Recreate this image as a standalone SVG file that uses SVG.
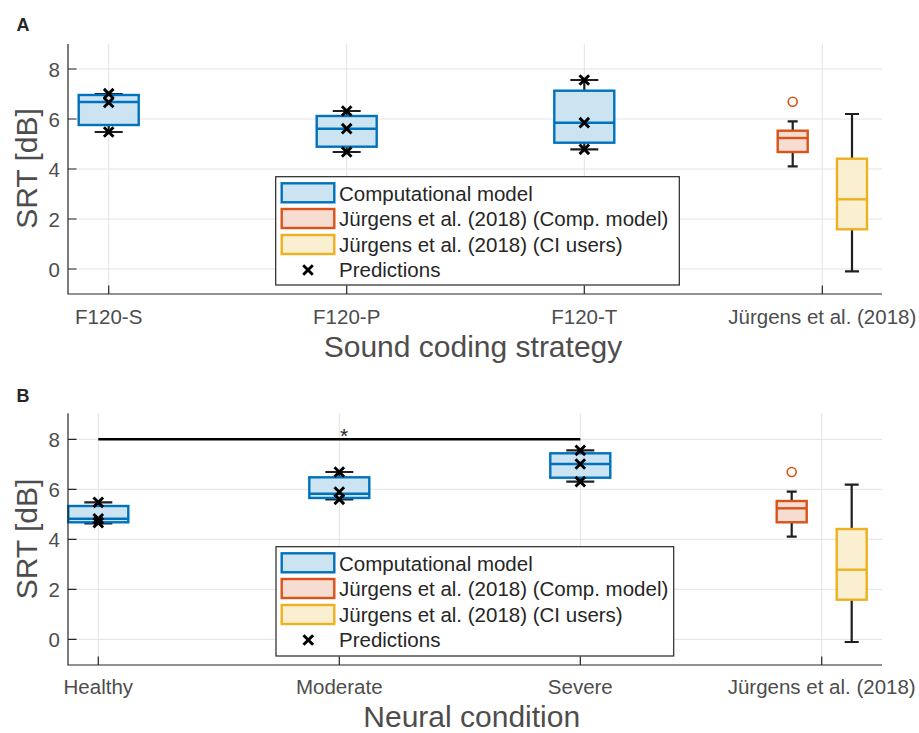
<svg xmlns="http://www.w3.org/2000/svg" width="919" height="733" viewBox="0 0 919 733">
<defs>
<style>
.grid{stroke:#e3e3e3;stroke-width:1;fill:none}
.axis{stroke:#262626;stroke-width:1.2;fill:none}
.tick{fill:#4d4d4d;font-family:"Liberation Sans",Arial,sans-serif;font-size:20.5px}
.ylab{fill:#4d4d4d;font-family:"Liberation Sans",Arial,sans-serif;font-size:20.5px;text-anchor:end}
.big{fill:#4d4d4d;font-family:"Liberation Sans",Arial,sans-serif;font-size:30px;text-anchor:middle}
.panel{fill:#262626;font-family:"Liberation Sans",Arial,sans-serif;font-size:18px;font-weight:bold}
.leg{fill:#262626;font-family:"Liberation Sans",Arial,sans-serif;font-size:20.5px}
.legbox{fill:#ffffff;stroke:#262626;stroke-width:1.2}
.wh{stroke:#1f1f1f;stroke-width:2.2;fill:none}
.bb{fill:#cce3f2;stroke:#0072bd;stroke-width:2.4}
.bm{stroke:#0072bd;stroke-width:2.4}
.ob{fill:#f7ddd1;stroke:#d95319;stroke-width:2.4}
.om{stroke:#d95319;stroke-width:2.4}
.yb{fill:#fbefd2;stroke:#edb120;stroke-width:2.4}
.ym{stroke:#edb120;stroke-width:2.4}
.mk{stroke:#000;stroke-width:2.9;fill:none}
.out{fill:none;stroke:#d95319;stroke-width:1.6}
</style>
<path id="x" d="M-4.8,-4.8L4.8,4.8M-4.8,4.8L4.8,-4.8"/>
</defs>
<rect width="919" height="733" fill="#fff"/>

<!-- Panel A -->
<g id="panelA">
<g id="gridA" class="grid">
<path d="M68,69H882M68,119H882M68,169H882M68,219H882M68,269H882"/>
<path d="M108.7,44V294M346.7,44V294M584.3,44V294M822.3,44V294"/>
</g>
<text class="panel" x="16.5" y="30.5">A</text>

<g id="a_f120s">
<path class="wh" d="M108.7,95V94M94.7,94H122.7M108.7,125V132M94.7,132H122.7"/>
<rect class="bb" x="78.7" y="95" width="60" height="30"/>
<path class="bm" d="M78.7,102H138.7"/>
<use href="#x" class="mk" x="108.7" y="93.7"/><use href="#x" class="mk" x="108.7" y="102.5"/><use href="#x" class="mk" x="108.7" y="132"/>
</g>
<g id="a_f120p">
<path class="wh" d="M346.7,116V111M332.7,111H360.7M346.7,146.7V152M332.7,152H360.7"/>
<rect class="bb" x="316.7" y="116" width="60" height="30.7"/>
<path class="bm" d="M316.7,128.7H376.7"/>
<use href="#x" class="mk" x="346.7" y="111"/><use href="#x" class="mk" x="346.7" y="128.7"/><use href="#x" class="mk" x="346.7" y="152"/>
</g>
<g id="a_f120t">
<path class="wh" d="M584.3,90.7V80M570.3,80H598.3M584.3,142.7V149.3M570.3,149.3H598.3"/>
<rect class="bb" x="554.3" y="90.7" width="60" height="52"/>
<path class="bm" d="M554.3,122.7H614.3"/>
<use href="#x" class="mk" x="584.3" y="80"/><use href="#x" class="mk" x="584.3" y="122.7"/><use href="#x" class="mk" x="584.3" y="149.3"/>
</g>
<g id="a_jcomp">
<path class="wh" d="M792.7,130.7V121.3M787.7,121.3H797.7M792.7,152V166.3M787.7,166.3H797.7"/>
<rect class="ob" x="777.7" y="130.7" width="30" height="21.3"/>
<path class="om" d="M777.7,138H807.7"/>
<circle class="out" cx="792.7" cy="101.7" r="4.5"/>
</g>
<g id="a_jci">
<path class="wh" d="M852,158.7V114M845,114H859M852,229.3V271.3M845,271.3H859"/>
<rect class="yb" x="837" y="158.7" width="30" height="70.6"/>
<path class="ym" d="M837,199.3H867"/>
</g>

<g id="axesA" class="axis">
<path d="M68,44V294H882"/>
<path d="M68,69H76.5M68,119H76.5M68,169H76.5M68,219H76.5M68,269H76.5"/>
<path d="M108.7,294V285.5M346.7,294V285.5M584.3,294V285.5M822.3,294V285.5"/>
</g>
<g id="ytA">
<text class="ylab" x="60" y="76.5">8</text><text class="ylab" x="60" y="126.5">6</text><text class="ylab" x="60" y="176.5">4</text><text class="ylab" x="60" y="226.5">2</text><text class="ylab" x="60" y="276.5">0</text>
</g>
<g id="xtA">
<text class="tick" x="108.7" y="324" text-anchor="middle">F120-S</text>
<text class="tick" x="346.7" y="324" text-anchor="middle">F120-P</text>
<text class="tick" x="584.3" y="324" text-anchor="middle">F120-T</text>
<text class="tick" x="822.3" y="324" text-anchor="middle">Jürgens et al. (2018)</text>
</g>
<text class="big" x="473" y="357">Sound coding strategy</text>
<text class="big" transform="translate(37,168.5) rotate(-90)">SRT [dB]</text>

<g id="legendA">
<rect class="legbox" x="275.7" y="176.7" width="403.6" height="108.3"/>
<rect class="bb" x="281.7" y="183.3" width="52.6" height="19"/>
<rect class="ob" x="281.7" y="209" width="52.6" height="19"/>
<rect class="yb" x="281.7" y="235" width="52.6" height="19"/>
<use href="#x" class="mk" x="308" y="270"/>
<text class="leg" x="339" y="200.5">Computational model</text>
<text class="leg" x="339" y="226">Jürgens et al. (2018) (Comp. model)</text>
<text class="leg" x="339" y="251.5">Jürgens et al. (2018) (CI users)</text>
<text class="leg" x="339" y="277">Predictions</text>
</g>
</g>

<!-- Panel B -->
<g id="panelB">
<g id="gridB" class="grid">
<path d="M68,439.3H882M68,489.3H882M68,539.3H882M68,589.3H882M68,639.3H882"/>
<path d="M98.3,413.3V665M339.3,413.3V665M580.3,413.3V665M821.7,413.3V665"/>
</g>
<text class="panel" x="16.5" y="401.5">B</text>

<g id="b_healthy">
<path class="wh" d="M98.3,506V502.3M84.3,502.3H112.3M98.3,522.3V523.3M84.3,523.3H112.3"/>
<rect class="bb" x="68.3" y="506" width="60" height="16.3"/>
<path class="bm" d="M68.3,518.7H128.3"/>
<use href="#x" class="mk" x="98.3" y="502.3"/><use href="#x" class="mk" x="98.3" y="518.8"/><use href="#x" class="mk" x="98.3" y="522.7"/>
</g>
<g id="b_moderate">
<path class="wh" d="M339.3,477.3V472M325.3,472H353.3M339.3,498V499.3M325.3,499.3H353.3"/>
<rect class="bb" x="309.3" y="477.3" width="60" height="20.7"/>
<path class="bm" d="M309.3,493.7H369.3"/>
<use href="#x" class="mk" x="339.3" y="472"/><use href="#x" class="mk" x="339.3" y="492"/><use href="#x" class="mk" x="339.3" y="499.3"/>
</g>
<g id="b_severe">
<path class="wh" d="M580.3,453.3V450.3M566.3,450.3H594.3M580.3,477.7V481.7M566.3,481.7H594.3"/>
<rect class="bb" x="550.3" y="453.3" width="60" height="24.4"/>
<path class="bm" d="M550.3,464H610.3"/>
<use href="#x" class="mk" x="580.3" y="450.3"/><use href="#x" class="mk" x="580.3" y="464"/><use href="#x" class="mk" x="580.3" y="481.7"/>
</g>
<g id="b_jcomp">
<path class="wh" d="M791.7,501V491.6M786.7,491.6H796.7M791.7,522.3V536.6M786.7,536.6H796.7"/>
<rect class="ob" x="776.7" y="501" width="30" height="21.3"/>
<path class="om" d="M776.7,508.3H806.7"/>
<circle class="out" cx="791.7" cy="472" r="4.5"/>
</g>
<g id="b_jci">
<path class="wh" d="M851.7,529V484.7M844.7,484.7H858.7M851.7,599.7V642M844.7,642H858.7"/>
<rect class="yb" x="836.7" y="529" width="30" height="70.7"/>
<path class="ym" d="M836.7,569.7H866.7"/>
</g>

<g id="connectors">
<path d="M98.3,439.3H580.3" stroke="#000" stroke-width="2.6" fill="none"/>
<text x="344" y="443" font-family="Liberation Sans, Arial, sans-serif" font-size="21" fill="#262626" text-anchor="middle">*</text>
</g>

<g id="axesB" class="axis">
<path d="M68,413.3V665H882"/>
<path d="M68,439.3H76.5M68,489.3H76.5M68,539.3H76.5M68,589.3H76.5M68,639.3H76.5"/>
<path d="M98.3,665V656.5M339.3,665V656.5M580.3,665V656.5M821.7,665V656.5"/>
</g>
<g id="ytB">
<text class="ylab" x="60" y="446.8">8</text><text class="ylab" x="60" y="496.8">6</text><text class="ylab" x="60" y="546.8">4</text><text class="ylab" x="60" y="596.8">2</text><text class="ylab" x="60" y="646.8">0</text>
</g>
<g id="xtB">
<text class="tick" x="98.3" y="694" text-anchor="middle">Healthy</text>
<text class="tick" x="339.3" y="694" text-anchor="middle">Moderate</text>
<text class="tick" x="580.3" y="694" text-anchor="middle">Severe</text>
<text class="tick" x="821.7" y="694" text-anchor="middle">Jürgens et al. (2018)</text>
</g>
<text class="big" x="471.7" y="727">Neural condition</text>
<text class="big" transform="translate(37,539) rotate(-90)">SRT [dB]</text>

<g id="legendB">
<rect class="legbox" x="276" y="546.7" width="397.7" height="109.3"/>
<rect class="bb" x="281.7" y="553.3" width="52.6" height="19"/>
<rect class="ob" x="281.7" y="579" width="52.6" height="19"/>
<rect class="yb" x="281.7" y="605" width="52.6" height="19"/>
<use href="#x" class="mk" x="308.3" y="640"/>
<text class="leg" x="339" y="570.5">Computational model</text>
<text class="leg" x="339" y="596">Jürgens et al. (2018) (Comp. model)</text>
<text class="leg" x="339" y="621.5">Jürgens et al. (2018) (CI users)</text>
<text class="leg" x="339" y="647">Predictions</text>
</g>
</g>
</svg>
